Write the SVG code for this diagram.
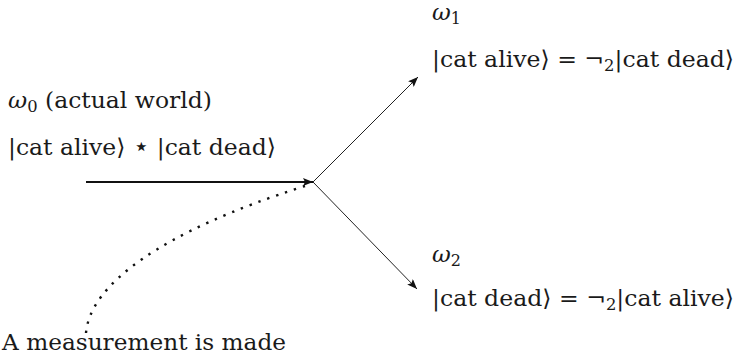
<svg xmlns="http://www.w3.org/2000/svg" width="736" height="357" viewBox="0 0 736 357">
<style>
text{font-family:"DejaVu Serif","Liberation Serif",serif;font-size:23px;fill:#1a1a1a}
.it{font-style:italic}
.sub{font-size:16px}
.star{font-size:26px}
.ln{stroke:#222;stroke-width:1;fill:none}
</style>
<defs>
<marker id="ah" viewBox="0 0 10 8" refX="10" refY="4" markerWidth="10" markerHeight="8" markerUnits="userSpaceOnUse" orient="auto">
<path d="M0,0 L10,4 L0,8 L2,4 Z" fill="#111"/>
</marker>
</defs>
<rect width="736" height="357" fill="#fff"/>
<g id="connectors">
<line x1="86" y1="182" x2="313" y2="182" stroke="#111" stroke-width="2" marker-end="url(#ah)"/>
<line class="ln" x1="313" y1="182" x2="418" y2="77" marker-end="url(#ah)"/>
<line class="ln" x1="313" y1="182" x2="417" y2="289" marker-end="url(#ah)"/>
<path d="M86,333 C90,285 160,232 305,186" stroke="#111" stroke-width="2.4" fill="none" stroke-dasharray="2.4 7"/>
</g>
<g id="w0">
<text x="8" y="108" textLength="204" lengthAdjust="spacingAndGlyphs"><tspan class="it">ω</tspan><tspan class="sub" dy="4">0</tspan><tspan dy="-4"> (actual world)</tspan></text>
<text x="8" y="155" textLength="268" lengthAdjust="spacingAndGlyphs">|cat alive⟩ <tspan class="star">⋆</tspan> |cat dead⟩</text>
</g>
<g id="w1">
<text x="432" y="20"><tspan class="it">ω</tspan><tspan class="sub" dy="4">1</tspan></text>
<text x="432" y="67" textLength="302" lengthAdjust="spacingAndGlyphs">|cat alive⟩ = ¬<tspan class="sub" dy="4">2</tspan><tspan dy="-4">|cat dead⟩</tspan></text>
</g>
<g id="w2">
<text x="432" y="262"><tspan class="it">ω</tspan><tspan class="sub" dy="4">2</tspan></text>
<text x="432" y="306" textLength="302" lengthAdjust="spacingAndGlyphs">|cat dead⟩ = ¬<tspan class="sub" dy="4">2</tspan><tspan dy="-4">|cat alive⟩</tspan></text>
</g>
<g id="measure">
<text x="2" y="350" textLength="284" lengthAdjust="spacingAndGlyphs">A measurement is made</text>
</g>
</svg>
